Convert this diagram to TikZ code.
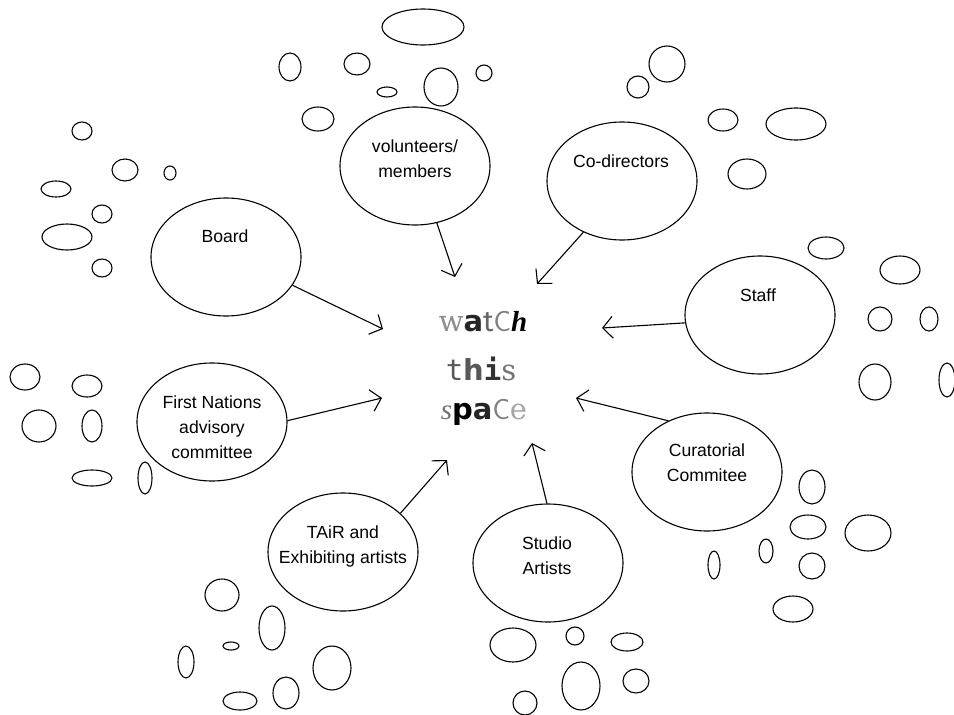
\documentclass[tikz,border=0pt]{standalone}
\usepackage{fontspec}
\setmainfont{Liberation Sans}
\newfontfamily\fA{DejaVu Serif}
\newfontfamily\fB{DejaVu Sans}
\newfontfamily\fC{Liberation Serif}
\newfontfamily\fD{Fira Sans}
\newfontfamily\fE{DejaVu Sans Mono}
\usetikzlibrary{shapes.geometric,arrows.meta}
\begin{document}
\begin{tikzpicture}[x=1pt,y=-1pt,
  big/.style={ellipse, draw, line width=1.1pt, minimum width=150pt, minimum height=118pt, inner sep=0pt},
  lbl/.style={align=center, font=\fontsize{17.6}{25}\selectfont, inner sep=0pt},
  bub/.style={line width=1.1pt},
  link/.style={line width=1.1pt, -{Straight Barb[length=10pt,width=22pt,line width=1.1pt]}},
  wts/.style={inner sep=0pt, font=\fontsize{29}{29}\selectfont}]
\useasboundingbox (0,0) rectangle (954,715);
\fill[white] (0,0) rectangle (954,715);

% small bubbles
\foreach \x/\y/\a/\b in {
 423/27/41/18, 290/67/11/14, 357/64/13/11, 387/92/10/5, 441/87/17/19, 484/73/8/8, 318/119/16/12,
 82/131/10/9, 125/170/13/11, 170/173/6/7, 56/189/15/8, 102/214/10/9, 67/237/25/13, 102/268/10/9,
 667/64/18/18, 638/87/11/11, 723/120/15/11, 796/124/30/16, 747/174/19/15, 826/248/18/11, 900/270/20/14, 880/319/12/12, 929/319/9/12,
 875/382/16/18, 947/380/8/17, 812/487/13/17, 808/527/18/12, 868/533/23/18, 766/551/7/12, 714/565/6/14, 812/566/13/13, 793/609/20/13,
 25/377/15/13, 87/386/15/11, 39/426/17/16, 92/426/10/16, 92/478/20/8, 145/478/7/16,
 222/595/17/16, 272/628/13/22, 231/646/8/4, 186/662/8/16, 332/668/19/22, 286/693/13/16, 240/701/17/9,
 513/645/23/17, 575/636/9/9, 627/642/16/9, 581/686/19/24, 636/681/13/12, 525/703/12/12}
 \draw[bub] (\x,\y) ellipse [x radius=\a pt, y radius=\b pt];

% main ellipses
\node[big] (board)  at (226,257) {};
\node[big] (vol)    at (415,166) {};
\node[big] (codir)  at (622,181) {};
\node[big] (staff)  at (760,315) {};
\node[big] (fn)     at (212,422) {};
\node[big] (tair)   at (343,552) {};
\node[big] (studio) at (548,563) {};
\node[big] (cur)    at (707,472) {};

% labels
\node[lbl] (boardT)  at (225,236) {Board};
\node[lbl] (volT)    at (415,159) {volunteers/\\members};
\node[lbl] (codirT)  at (621,161) {Co-directors};
\node[lbl] (staffT)  at (758,295) {Staff};
\node[lbl] (fnT)     at (212,427) {First Nations\\advisory\\committee};
\node[lbl] (tairT)   at (343,546) {TAiR and\\Exhibiting artists};
\node[lbl] (studioT) at (547,556) {Studio\\Artists};
\node[lbl] (curT)    at (707,463) {Curatorial\\Commitee};

% centre logo
\node[wts] (w1) at (483,322) {{\fA\color{black!45}w}{\fB\bfseries\color{black!85}a}{\fD\color{black!60}t}{\sffamily\color{black!50}C}{\fC\bfseries\itshape h}};
\node[wts] (w2) at (481,369) {{\fE\color{black!65}t}{\fB\bfseries\color{black!65}h}{\fE\bfseries\color{black!80}i}{\fA\color{black!55}s}};
\node[wts] (w3) at (484,412) {{\fC\itshape\color{black!55}s}{\fB\bfseries p}{\fB\bfseries\color{black!85}a}{\sffamily\color{black!50}C}{\fA\color{black!35}e}};

% arrow tips
\coordinate (tBoard)  at (383,329);
\coordinate (tVol)    at (455,277);
\coordinate (tCo)     at (537,284);
\coordinate (tStaff)  at (602,328);
\coordinate (tFN)     at (382,398);
\coordinate (tTair)   at (447,460);
\coordinate (tStudio) at (532,443);
\coordinate (tCur)    at (576,398);

\draw[link] (board.-23)  -- (tBoard);
\draw[link] (vol.-69)    -- (tVol);
\draw[link] (codir.233)  -- (tCo);
\draw[link] (staff.186)  -- (tStaff);
\draw[link] (fn.1)       -- (tFN);
\draw[link] (tair.34)    -- (tTair);
\draw[link] (studio.91)  -- (tStudio);
\draw[link] (cur.127)    -- (tCur);
\end{tikzpicture}
\end{document}
